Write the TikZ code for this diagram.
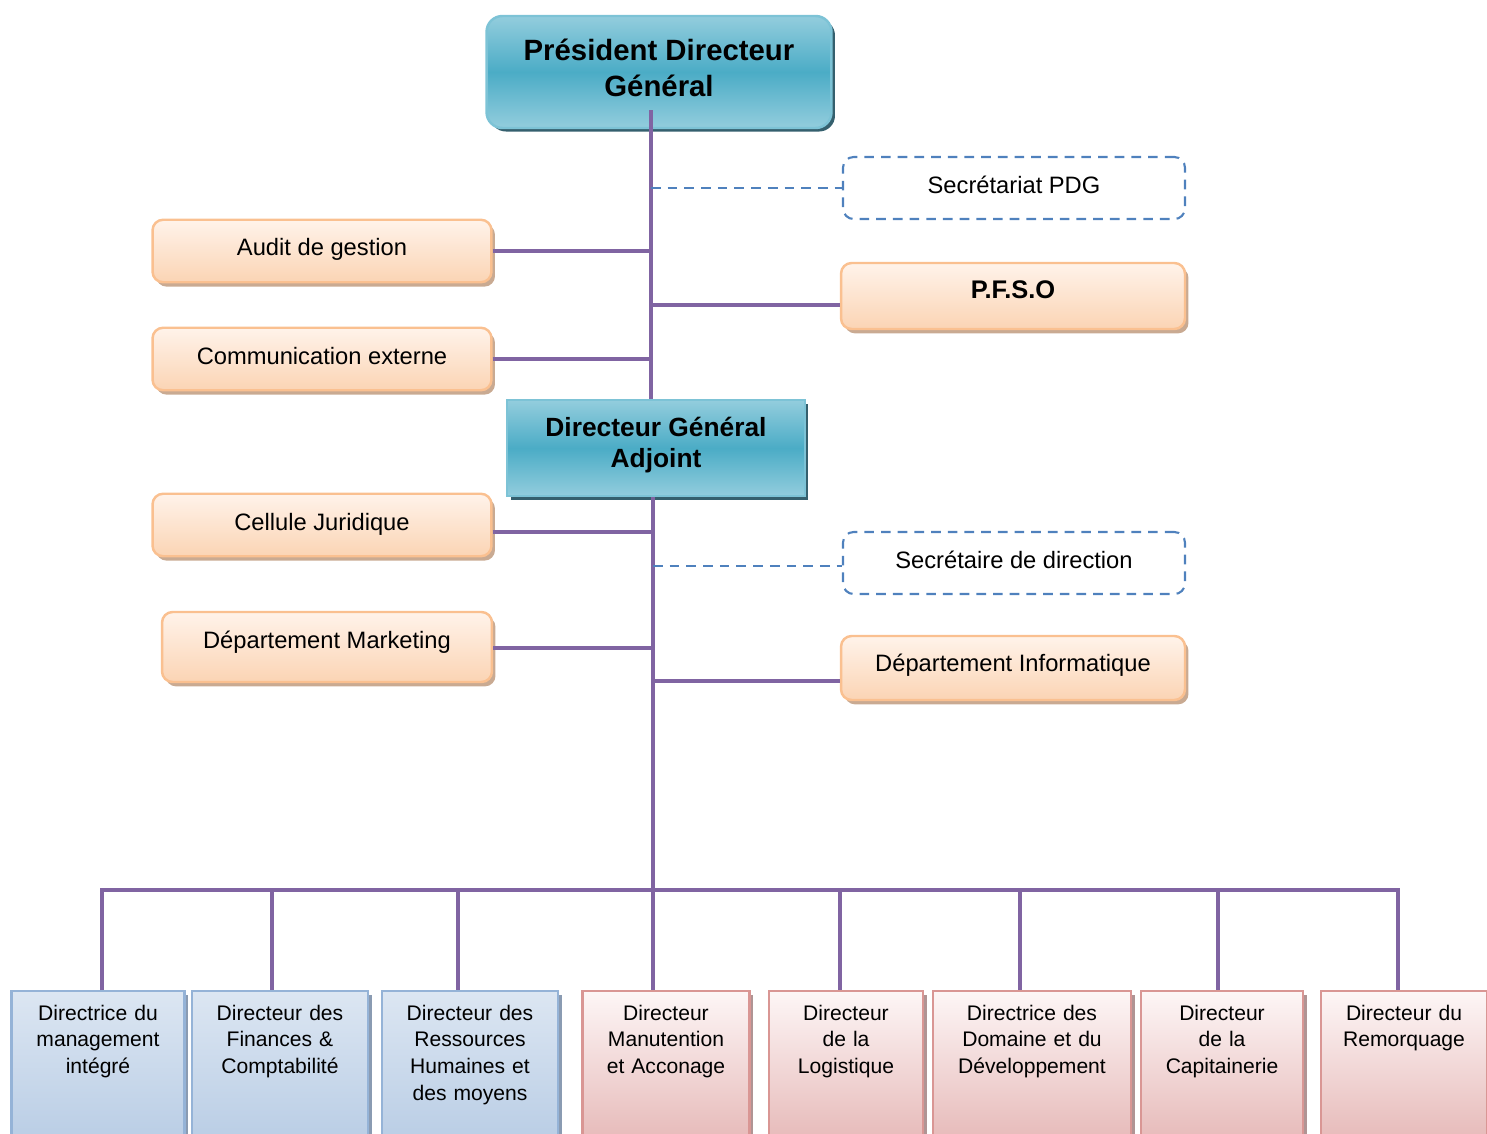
\documentclass[tikz,border=0pt]{standalone}
\usepackage{fontspec}
\setmainfont{Liberation Sans}
\usepackage{tikz}
\usetikzlibrary{shadows}
\definecolor{trunk}{HTML}{8064A2}
\definecolor{dashblue}{HTML}{4F81BD}
\definecolor{teallight}{HTML}{93CDDD}
\definecolor{tealdark}{HTML}{4BACC6}
\definecolor{tealedge}{HTML}{7DC3D6}
\definecolor{tealshadow}{HTML}{35606E}
\definecolor{orangetop}{HTML}{FFF3EA}
\definecolor{orangebot}{HTML}{FBD4B4}
\definecolor{orangeedge}{HTML}{FAC090}
\definecolor{orangeshadow}{HTML}{C9AA92}
\definecolor{bluetop}{HTML}{DCE6F2}
\definecolor{bluebot}{HTML}{B9CDE5}
\definecolor{blueedge}{HTML}{95B3D7}
\definecolor{blueshadow}{HTML}{8A9BB2}
\definecolor{redtop}{HTML}{FDF6F6}
\definecolor{redbot}{HTML}{E6B9B8}
\definecolor{rededge}{HTML}{D99694}
\definecolor{redshadow}{HTML}{B09494}
\tikzstyle{link}=[draw=trunk, line width=2.6pt]
\tikzstyle{dlink}=[draw=dashblue, line width=1.2pt, dash pattern=on 5.5pt off 4pt]
\tikzstyle{head}=[draw=tealedge, line width=1.4pt, align=center, top color=teallight, bottom color=teallight, middle color=tealdark, drop shadow={shadow xshift=2pt, shadow yshift=-2pt, fill=tealshadow, opacity=1}]
\tikzstyle{pdgbox}=[head, rounded corners=9pt, minimum width=6.9cm, minimum height=2.24cm, text depth=4.8pt, font=\fontsize{16.7}{20}\selectfont\bfseries]
\tikzstyle{dgabox}=[head, minimum width=5.96cm, minimum height=1.92cm, text depth=6.6pt, font=\fontsize{15}{18}\selectfont\bfseries]
\tikzstyle{obox}=[draw=orangeedge, line width=1.4pt, rounded corners=6pt, top color=orangetop, bottom color=orangebot, minimum width=6.78cm, minimum height=1.25cm, text height=10pt, text depth=4.5pt, font=\fontsize{13.5}{16}\selectfont, drop shadow={shadow xshift=2pt, shadow yshift=-2.5pt, fill=orangeshadow, opacity=1}]
\tikzstyle{sbox}=[dlink, rounded corners=6pt, minimum width=6.84cm, minimum height=1.24cm, text height=10pt, text depth=4pt, font=\fontsize{13.5}{16}\selectfont]
\tikzstyle{lowbox}=[anchor=north, line width=1.4pt, inner xsep=0pt, inner ysep=0pt, align=center, text height=16.4pt, text depth=70pt, font=\fontsize{12}{15.3}\selectfont]
\tikzstyle{bluebox}=[lowbox, draw=blueedge, top color=bluetop, bottom color=bluebot, drop shadow={shadow xshift=2pt, shadow yshift=-2pt, fill=blueshadow, opacity=1}]
\tikzstyle{redbox}=[lowbox, draw=rededge, top color=redtop, bottom color=redbot, drop shadow={shadow xshift=2pt, shadow yshift=-2pt, fill=redshadow, opacity=1}]

\begin{document}
\begin{tikzpicture}[x=0.02cm, y=-0.02cm]
    \path[use as bounding box, clip] (0,0) rectangle (1487,1133);
    % heads
    \node[pdgbox] (PDG) at (659,72) {Président Directeur\\Général};
    \node[dgabox] (DGA) at (656,448) {Directeur Général\\Adjoint};
    % staff, left
    \node[obox] (L1) at (322,251) {Audit de gestion};
    \node[obox, text depth=3.8pt] (L2) at (322,359) {Communication externe};
    \node[obox, text depth=3.8pt] (L3) at (322,525) {Cellule Juridique};
    \node[obox, minimum width=6.6cm, minimum height=1.4cm, text depth=8pt] (L4) at (327,647) {Département Marketing};
    % staff, right
    \node[sbox] (R1) at (1014,188) {Secrétariat PDG};
    \node[obox, minimum width=6.88cm, minimum height=1.32cm, text depth=7pt, font=\fontsize{14.5}{17}\selectfont\bfseries] (R2) at (1013,296) {P.F.S.O};
    \node[sbox, text depth=3.6pt] (R3) at (1014,563) {Secrétaire de direction};
    \node[obox, minimum width=6.88cm, minimum height=1.28cm, text depth=6pt] (R4) at (1013,668) {Département Informatique};
    % directions
    \node[bluebox, text width=3.46cm] (B1) at (98,990) {Directrice du\\management\\intégré};
    \node[bluebox, text width=3.52cm] (B2) at (280,990) {Directeur des\\Finances \&\\Comptabilité};
    \node[bluebox, text width=3.52cm] (B3) at (470,990) {Directeur des\\Ressources\\Humaines et\\des moyens};
    \node[redbox, text width=3.34cm] (B4) at (666,990) {Directeur\\Manutention\\et Acconage};
    \node[redbox, text width=3.08cm] (B5) at (846,990) {Directeur\\de la\\Logistique};
    \node[redbox, text width=3.96cm] (B6) at (1032,990) {Directrice des\\Domaine et du\\Développement};
    \node[redbox, text width=3.24cm] (B7) at (1222,990) {Directeur\\de la\\Capitainerie};
    \node[redbox, text width=3.32cm] (B8) at (1404,990) {Directeur du\\Remorquage};
    % trunk
    \coordinate (T0) at (651,110);
    \coordinate (T1) at (653,890);
    \draw[link] (T0) -- (T0 |- DGA.north);
    \draw[link] (DGA.south -| T1) -- (T1);
    \draw[link] (L1.east) -- (L1.east -| T0);
    \draw[link] (L2.east) -- (L2.east -| T0);
    \draw[link] (L3.east |- 0,532) -- (T1 |- 0,532);
    \draw[link] (L4.east |- 0,648) -- (T1 |- 0,648);
    \draw[link] (T0 |- 0,305) -- (R2.west |- 0,305);
    \draw[link] (T1 |- 0,681) -- (R4.west |- 0,681);
    \draw[dlink] (T0 |- R1.west) -- (R1.west);
    \draw[dlink] (T1 |- 0,566) -- (R3.west |- 0,566);
    % bus
    \coordinate (D1) at (102,890);
    \coordinate (D2) at (272,890);
    \coordinate (D3) at (458,890);
    \coordinate (D4) at (653,890);
    \coordinate (D5) at (840,890);
    \coordinate (D6) at (1020,890);
    \coordinate (D7) at (1218,890);
    \coordinate (D8) at (1398,890);
    \draw[link] (D1 |- B1.north) -- (D1) -- (D8) -- (D8 |- B8.north);
    \foreach \i in {2,...,7}
        \draw[link] (D\i) -- (D\i |- B\i.north);
\end{tikzpicture}
\end{document}
